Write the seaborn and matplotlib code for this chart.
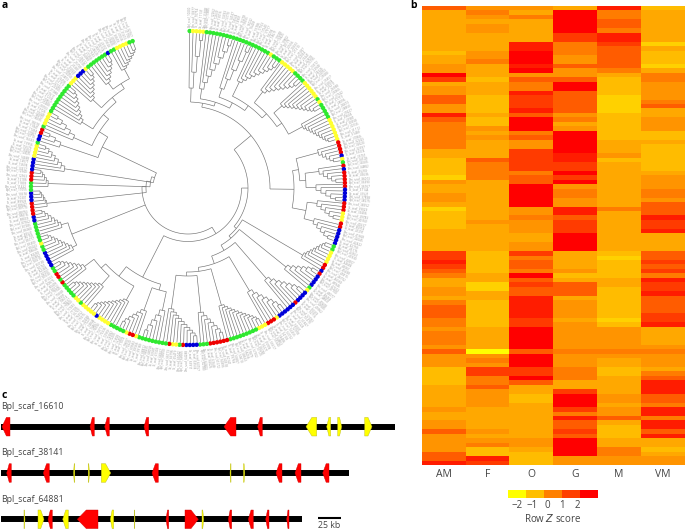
import numpy as np
import pandas as pd
import matplotlib
matplotlib.use("Agg")
import matplotlib.pyplot as plt
from matplotlib.colors import LinearSegmentedColormap, ListedColormap
from matplotlib.collections import LineCollection
from matplotlib.patches import Polygon
import seaborn as sns

sns.set_theme(style="white")
plt.rcParams["font.family"] = ["Open Sans", "DejaVu Sans"]

# ---------- panel b: expression levels per tissue (0 = yellow ... 9 = red) ----------
tissues = ["AM", "F", "O", "G", "M", "VM"]
AM = "6333333333 2334497344 6644865555 5533222214 3344312222 3333377876 5334435666 5545554644 4222233333 4334464444 668"
F  = "4543443333 4453332333 2222322434 3333655553 3333333343 3333322222 3311332222 2233333045 4775564444 3333343452 287"
O  = "4353333388 9998946558 7778699956 4477777566 9999944544 4334475665 9676688888 7799999699 9779633223 3333333443 222"
G  = "3999997755 5446446996 6666453499 9998877979 4554488677 7999933334 2366634444 3444444544 4555337999 7586676999 944"
M  = "8556658876 6666532222 1111222222 3334233333 3333353333 3333321222 2332222222 1244444543 3223333443 4463222335 544"
VM = "2333333313 2221355444 4563344422 3222222344 4554666877 8333366767 5877866667 7833334544 4356888665 8858868332 344"
to_z = lambda s: [(int(ch) - 4.5) * 5 / 9 for ch in s.replace(" ", "")]
heat = pd.DataFrame({n: to_z(v) for n, v in zip(tissues, [AM, F, O, G, M, VM])})

legend_bins = [-2, -1, 0, 1, 2]
legend_colors = ["#FFFF00", "#FFBF00", "#FF8000", "#FF4000", "#FF0000"]
legend_ticks = ["\u22122", "\u22121", "0", "1", "2"]
heat_cmap = LinearSegmentedColormap.from_list(
    "yr", ["#FFFF00", "#FFD000", "#FFBC00", "#FFA800", "#FF9400", "#FF7C00", "#FF5C00", "#FF3C00", "#FF1C00", "#FF0000"])

# ---------- panel a: ring of leaves, (clockwise end angle, clade colour) ----------
ring_runs = [(1.5,"g"),(5.8,"y"),(31.7,"g"),(33,"y"),(35.7,"g"),(42.7,"y"),(47.8,"g"),(54.8,"y"),(56,"g"),(58,"y"),
             (63.8,"g"),(73,"y"),(78,"r"),(79,"b"),(80,"y"),(81,"g"),(82,"r"),(84,"b"),(90,"r"),(95.5,"b"),(99,"r"),
             (102,"y"),(103,"g"),(104.5,"r"),(110.6,"b"),(114,"g"),(119,"y"),(121,"r"),(122.5,"b"),(124,"r"),(128.5,"b"),
             (130,"g"),(131,"y"),(136,"b"),(137.5,"r"),(145,"b"),(146,"y"),(149.6,"r"),(150.5,"b"),(153.8,"y"),(164.8,"g"),
             (173,"r"),(176.7,"g"),(181,"b"),(183,"r"),(183.8,"g"),(186.5,"y"),(187.2,"r"),(188,"b"),(199,"g"),(200.5,"y"),
             (202,"r"),(204,"y"),(209.5,"g"),(215,"y"),(216.5,"b"),(222,"y"),(224,"g"),(226,"y"),(232.8,"g"),(234,"r"),
             (235,"g"),(238,"r"),(240.5,"g"),(244.6,"b"),(245.5,"y"),(246.7,"b"),(249,"g"),(250,"y"),(257,"g"),(259.5,"b"),
             (264.5,"r"),(269,"b"),(272,"g"),(276,"r"),(281,"b"),(286.6,"y"),(288,"g"),(290,"b"),(292,"r"),(294,"g"),
             (298.8,"y"),(310.6,"g"),(315.5,"y"),(319,"b"),(320,"y"),(329,"g"),(330,"b"),(333,"g"),(337.8,"y"),(340.4,"g")]
ring_palette = {"g": "#2FE82F", "y": "#FFFF30", "b": "#0000D8", "r": "#EE0000"}
leaf_prefixes = ["Bpl_scaf_", "Bm_scaf_", "Tc_scaf_", "Ce_scaf_", "Dm_scaf_"]

# ---------- panel c: (start, end, strand, colour) ----------
scaffolds = ["Bpl_scaf_16610", "Bpl_scaf_38141", "Bpl_scaf_64881"]
scaffold_ends = [395, 348.7, 302.3]
genes_16610 = [(2,10,-1,"r"),(90,94.3,-1,"r"),(104.7,109.3,-1,"r"),(144,148.7,-1,"r"),(224,236,-1,"r"),(257.7,262.3,-1,"r"),
               (306,316.7,-1,"y"),(326.7,330.7,-1,"y"),(337.7,341.7,1,"y"),(364.7,372,1,"y")]
genes_38141 = [(6.7,11.3,-1,"r"),(43.3,49.3,-1,"r"),(73.5,74.8,-1,"y"),(88.2,89.5,1,"y"),(101.3,110.7,1,"y"),(152,158.3,-1,"r"),
               (230,231,-1,"y"),(243.5,244.8,1,"y"),(276,282,-1,"r"),(295,301,-1,"r"),(322.7,329,-1,"r")]
genes_64881 = [(24,25,1,"y"),(38,44,1,"y"),(48,52.3,-1,"r"),(62.7,68.3,-1,"y"),(77.3,98,-1,"r"),(110.3,113.7,-1,"y"),
               (134.3,135,1,"y"),(166,168.7,-1,"r"),(185,198.3,1,"r"),(202,203.7,1,"y"),(228.3,231.7,-1,"r"),
               (248.3,253.3,-1,"r"),(265.7,269,-1,"r"),(286.7,289,-1,"r")]

# ---------- figure ----------
W, H = 685, 531
fig = plt.figure(figsize=(W / 100, H / 100), dpi=100)
ax = fig.add_axes([0, 0, 1, 1])
ax.set_xlim(0, W); ax.set_ylim(H, 0); ax.axis("off")

CX, CY = 188, 188
R_RING, R_TIP = 157, 155
segs = []

def xy(a, r):
    t = np.radians(a)
    return CX + r * np.sin(t), CY - r * np.cos(t)

def radial(a, r1, r2):
    segs.append([xy(a, r1), xy(a, r2)])

def arc(a1, a2, r):
    ang = np.linspace(a1, a2, max(2, int(abs(a2 - a1) / 2) + 2))
    segs.append([xy(t, r) for t in ang])

def comb(a1, a2, base, d=1):
    leaves = np.arange(a1 + 0.6, a2, 1.25)
    if d > 0:
        leaves = leaves[::-1]
    n = len(leaves)
    step = (148 - base) / max(n - 2, 1)
    cur, cur_r = leaves[0], R_TIP
    for i in range(1, n):
        r = 148 - step * (i - 1)
        radial(cur, cur_r, r)
        radial(leaves[i], R_TIP, r)
        arc(cur, leaves[i], r)
        cur, cur_r = (cur + leaves[i]) / 2, r
    return cur, cur_r

def node(r, *kids):
    angs = [k[0] for k in kids]
    arc(min(angs), max(angs), r)
    for a, kr in kids:
        radial(a, r, kr)
    return (min(angs) + max(angs)) / 2, r

A = node(86, comb(0, 6, 100), node(90, comb(6, 17, 100), node(96, comb(17, 24, 105), node(102, comb(24, 36, 118),
        node(108, comb(36, 47, 122), node(114, comb(47, 60, 125), comb(60, 73, 130)))))))
B1 = node(112, comb(73, 81, 135), node(118, comb(81, 88, 132), comb(88, 95, 128)))
B2 = node(120, comb(95, 103, 130), comb(103, 111, 130))
T = node(82, A, node(106, B1, B2))
BR = node(63, comb(111, 122, 133, -1), node(66, comb(122, 131, 126, -1), node(72, comb(131, 141, 120, -1),
        node(80, comb(141, 151, 120, -1), node(84, comb(151, 166, 122, -1), node(88, comb(166, 176, 125, -1), comb(176, 190, 122, -1)))))))
M = node(60, T, BR)
D = node(100, node(106, comb(190, 198, 125), comb(198, 207, 130)),
          node(112, comb(207, 220, 128), node(118, comb(220, 231, 130), comb(231, 241, 130))))
L = node(53.5, M, D)
E = node(125, comb(241, 252, 130), comb(252, 262, 132))
F2 = node(105, comb(292, 300, 125), node(112, comb(300, 311, 125), node(118, comb(311, 321, 130),
        node(124, comb(321, 330, 132), comb(330, 340, 135)))))
Fc = node(95, comb(287, 292, 135), F2)
sa = node(35, Fc, comb(277, 287, 125))
sb = node(38, sa, comb(270, 277, 140))
sc = node(42, sb, comb(262, 270, 142))
root = node(46, L, E, sc)
ax.add_collection(LineCollection(segs, colors="#707070", linewidths=0.45, zorder=1))

# ring of leaf dots and labels
leaf_angles = np.arange(0.6, 340.4, 1.25)
ends = np.array([e for e, _ in ring_runs])
cols = [ring_runs[min(np.searchsorted(ends, a), len(ends) - 1)][1] for a in leaf_angles]
px, py = xy(leaf_angles, R_RING)
sns.scatterplot(x=px, y=py, hue=cols, palette=ring_palette, s=10, linewidth=0, legend=False, ax=ax, zorder=3)
ax.set_xlabel(""); ax.set_ylabel("")
ax.set_xlim(0, W); ax.set_ylim(H, 0)
for i, a in enumerate(leaf_angles):
    x, y = xy(a, R_RING + 4)
    label = f"{leaf_prefixes[i % 5]}{10000 + (i * 377) % 80000}"
    if a < 180:
        ax.text(x, y, label, fontsize=2.2, color="#999999", rotation=90 - a, rotation_mode="anchor", ha="left", va="center")
    else:
        ax.text(x, y, label, fontsize=2.2, color="#999999", rotation=270 - a, rotation_mode="anchor", ha="right", va="center")

# panel c tracks
gene_colors = {"r": "#FF0000", "y": "#FFFF00"}
edge_colors = {"r": "#D00000", "y": "#B8B820"}
track_ys = [426.7, 473, 519.3]
label_ys = [406.7, 452.7, 499.3]
for name, end, ty, ly, genes in zip(scaffolds, scaffold_ends, track_ys, label_ys, [genes_16610, genes_38141, genes_64881]):
    ax.plot([1, end], [ty, ty], color="black", lw=4.3, solid_capstyle="butt", zorder=2)
    ax.text(1, ly, name, fontsize=6.3, color="#444444", ha="left", va="center")
    for s, e, d, c in genes:
        h = 9.3
        tip = min((e - s) * 0.55, 9)
        if d > 0:
            pts = [(s, ty - h), (e - tip, ty - h), (e, ty), (e - tip, ty + h), (s, ty + h)]
        else:
            pts = [(e, ty - h), (s + tip, ty - h), (s, ty), (s + tip, ty + h), (e, ty + h)]
        ax.add_patch(Polygon(pts, closed=True, facecolor=gene_colors[c], edgecolor=edge_colors[c], lw=0.3, zorder=3))
ax.plot([318.3, 341], [518, 518], color="black", lw=1.5, solid_capstyle="butt")
ax.text(329.5, 525.7, "25 kb", fontsize=6.3, color="#444444", ha="center", va="center")

# panel letters and legend text
for t, x, y in [("a", 2, 6), ("b", 410, 6), ("c", 2, 395)]:
    ax.text(x, y, t, fontsize=7.5, fontweight="bold", color="black", ha="left", va="center")
for t, x in zip(legend_ticks, [517, 532, 547, 562, 577]):
    ax.text(x, 506, t, fontsize=7, color="#444444", ha="center", va="center")
ax.text(553, 519, r"Row $\mathit{Z}$ score", fontsize=7, color="#444444", ha="center", va="center", math_fontfamily="dejavusans")

# panel b heatmap
hax = fig.add_axes([421.7 / W, (H - 465) / H, (W - 421.7) / W, 459 / H])
sns.heatmap(heat, ax=hax, cmap=heat_cmap, vmin=-2.5, vmax=2.5, cbar=False, yticklabels=False, xticklabels=tissues)
hax.tick_params(axis="x", length=0, pad=3, labelsize=7.5, labelcolor="#444444", rotation=0)

lax = fig.add_axes([508 / W, (H - 498) / H, 90 / W, 8 / H])
sns.heatmap(pd.DataFrame([legend_bins]), ax=lax, cmap=ListedColormap(legend_colors), cbar=False,
            xticklabels=False, yticklabels=False)

fig.savefig("out.png", dpi=100)
